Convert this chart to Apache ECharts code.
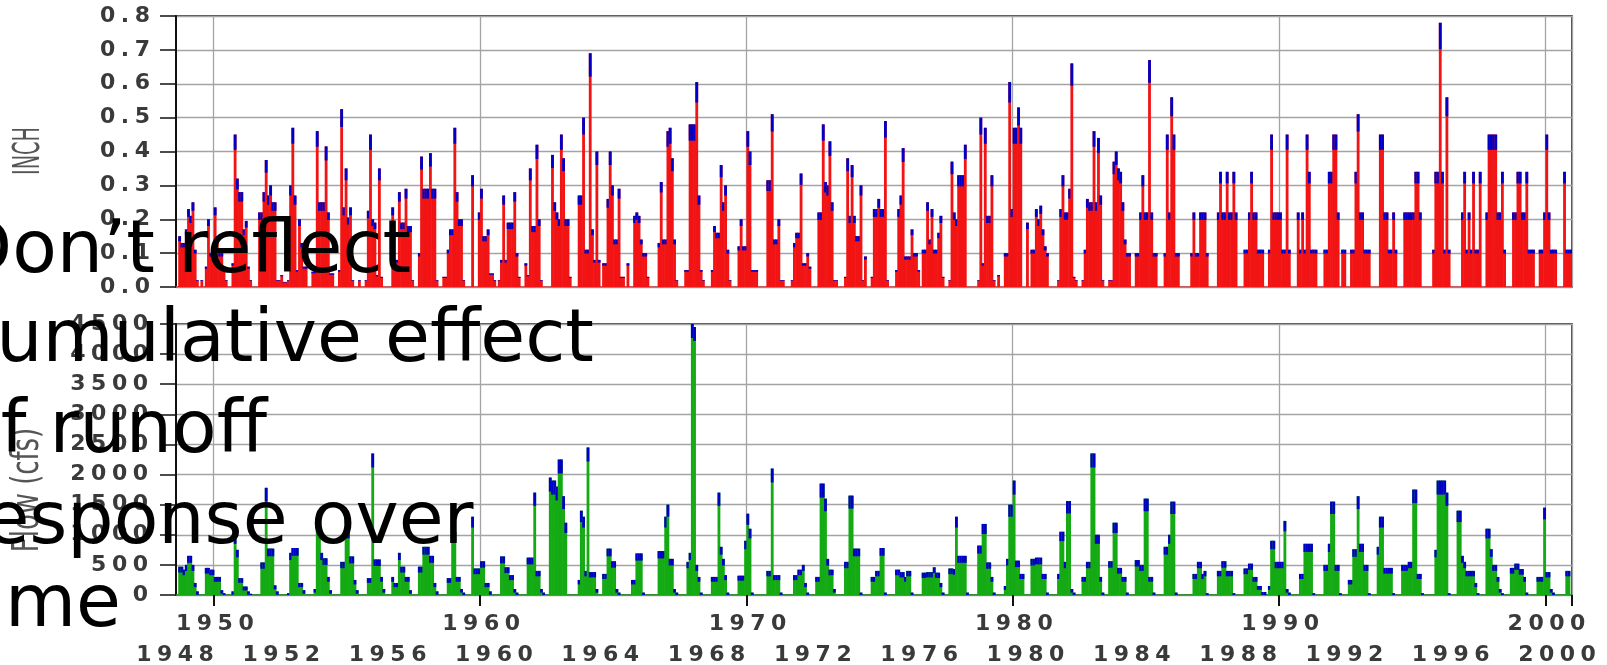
<!DOCTYPE html>
<html><head><meta charset="utf-8">
<script src="https://cdn.jsdelivr.net/npm/echarts@6/dist/echarts.min.js"></script>
<style>html,body{margin:0;padding:0;background:#fff;overflow:hidden}#c{width:1607px;height:665px}</style>
</head><body><div id="c"></div>
<script>
// Monthly series, Aug 1948 .. Dec 2000, one row of 12 values per Aug-Jul year
const precip1948_1961 = [
0,0.15,0.13,0.13,0.17,0.23,0.21,0.25,0.11,0.02,0,0.02,
0,0.06,0.2,0.1,0.1,0.235,0.15,0.1,0.1,0.06,0.02,0,
0,0.07,0.45,0.32,0.28,0.28,0.17,0.195,0.06,0.02,0,0,
0,0.22,0.22,0.28,0.375,0.27,0.3,0.25,0.25,0.02,0.02,0.035,
0.015,0.015,0.02,0.3,0.47,0.27,0.05,0.2,0.13,0.06,0.06,0,
0,0.045,0.045,0.46,0.25,0.25,0.25,0.415,0.22,0.04,0.04,0,
0,0.05,0.525,0.235,0.35,0.205,0.235,0.02,0,0,0.02,0,
0,0.02,0.225,0.45,0.2,0.19,0.035,0.35,0.03,0,0,0,
0,0.235,0.08,0.08,0.28,0.19,0.19,0.29,0.18,0.18,0.02,0,
0,0.1,0.385,0.29,0.29,0.29,0.395,0.29,0.29,0.02,0,0,
0.03,0.03,0.11,0.17,0.17,0.47,0.28,0.2,0.2,0.02,0,0,
0,0.33,0,0,0.22,0.29,0.15,0.15,0.17,0.04,0.04,0.02,
0,0.02,0.08,0.27,0.08,0.19,0.19,0.19,0.28,0.1,0.03,0
];
const precip1961_1974 = [
0,0.07,0.035,0.35,0.18,0.18,0.42,0.2,0.02,0,0,0,
0,0.39,0.25,0.22,0.2,0.45,0.38,0.2,0.2,0.03,0,0,
0,0.27,0.27,0.5,0.11,0.11,0.69,0.17,0.08,0.4,0.08,0,
0.07,0.07,0.26,0.4,0.3,0.14,0.14,0.29,0.03,0.03,0,0.07,
0,0,0.21,0.22,0.21,0.14,0.1,0.1,0.03,0,0,0,
0,0.13,0.31,0.14,0.14,0.46,0.47,0.38,0.14,0.02,0,0,
0,0.05,0.05,0.48,0.48,0.48,0.605,0.27,0.05,0.02,0,0,
0,0.05,0.18,0.16,0.16,0.36,0.25,0.3,0.11,0.02,0,0,
0,0.12,0.2,0.12,0.12,0.46,0.4,0.05,0.05,0.05,0,0,
0,0,0.315,0.315,0.51,0.14,0.14,0.2,0.02,0.02,0,0,
0,0.02,0.13,0.16,0.16,0.335,0.07,0.07,0.1,0.06,0,0,
0,0.22,0.22,0.48,0.31,0.3,0.43,0.25,0.02,0.02,0,0,
0,0.03,0.38,0.21,0.36,0.21,0.15,0.15,0.3,0.02,0.09,0
];
const precip1974_1987 = [
0,0.03,0.23,0.23,0.26,0.23,0.23,0.49,0.02,0,0,0,
0.05,0.23,0.27,0.41,0.09,0.09,0.09,0.17,0.1,0.1,0.05,0,
0.11,0.11,0.25,0.14,0.23,0.11,0.11,0.16,0.21,0.03,0,0,
0.02,0.37,0.22,0.2,0.33,0.33,0.33,0.42,0,0,0,0,
0,0.02,0.5,0.07,0.47,0.21,0.21,0.33,0.02,0,0.035,0,
0,0.1,0.1,0.605,0.23,0.47,0.47,0.53,0.47,0,0,0.19,
0,0.11,0.11,0.23,0.2,0.24,0.17,0.12,0.1,0,0,0,
0,0.02,0.23,0.33,0.22,0.22,0.29,0.66,0.03,0.02,0,0,
0.02,0.11,0.26,0.25,0.25,0.46,0.25,0.44,0.27,0.02,0,0,
0.02,0.02,0.37,0.4,0.35,0.34,0.25,0.14,0.1,0.1,0,0,
0.1,0.1,0.22,0.33,0.22,0.22,0.67,0.22,0.1,0.1,0,0,
0,0.1,0.45,0.22,0.56,0.45,0.1,0.1,0,0,0,0,
0,0.1,0.22,0.1,0.1,0.22,0.22,0.22,0.1,0,0,0
];
const precip1987_2000 = [
0,0.22,0.34,0.22,0.22,0.34,0.22,0.22,0.34,0.22,0,0,
0,0.11,0.11,0.22,0.34,0.22,0.22,0.11,0.11,0.11,0,0,
0.11,0.45,0.22,0.22,0.22,0.22,0.11,0.11,0.45,0.11,0,0,
0,0.22,0.11,0.22,0.11,0.45,0.34,0.11,0.11,0.11,0,0,
0,0.11,0.11,0.34,0.34,0.45,0.45,0.22,0,0.11,0.11,0,
0,0.11,0.11,0.34,0.51,0.22,0.22,0.11,0.11,0.11,0,0,
0,0,0.45,0.45,0.22,0.22,0.11,0.11,0.22,0.11,0,0,
0,0.22,0.22,0.22,0.22,0.22,0.34,0.34,0.22,0,0,0,
0,0,0.11,0.34,0.34,0.78,0.34,0.11,0.56,0.11,0,0,
0,0,0,0.22,0.34,0.11,0.22,0.11,0.34,0.11,0.11,0.34,
0,0,0.22,0.45,0.45,0.45,0.45,0.22,0.22,0.34,0.11,0,
0,0,0.22,0.22,0.34,0.34,0.22,0.22,0.34,0.11,0.11,0.11,
0,0,0.11,0.11,0.22,0.45,0.22,0.11,0.11,0.11,0,0,
0,0.34,0.11,0.11,0.11
];
const flow1948_1961 = [
0,470,470,420,500,650,650,500,200,60,0,0,
0,450,450,420,420,300,300,300,80,30,0,0,
0,60,1000,750,280,280,140,140,60,20,0,0,
0,0,540,540,1780,770,770,770,160,60,0,0,
0,0,30,700,780,780,780,200,200,80,0,0,
0,0,100,1280,1280,700,610,610,300,80,0,0,
0,0,550,550,1360,1100,640,640,250,80,0,0,
0,0,280,280,2350,590,590,590,300,100,0,0,
0,300,200,200,700,470,470,300,300,80,0,0,
0,470,470,800,800,800,650,650,200,60,0,0,
0,0,280,280,1050,1050,300,300,100,40,0,0,
0,1300,440,440,440,560,560,200,200,60,0,0,
0,0,640,640,460,460,330,330,100,40,0,0
];
const flow1961_1974 = [
0,0,620,620,620,1700,400,400,100,40,0,0,
1950,1900,1900,1800,2250,2250,1640,1200,0,0,0,0,
0,250,1400,1300,400,2450,380,380,380,100,0,0,
350,350,770,770,560,560,100,40,0,0,0,0,
0,250,250,690,690,690,40,0,0,0,0,0,
0,730,730,730,1300,1500,600,600,100,40,0,0,
0,0,550,700,4500,4450,500,300,40,0,0,0,
0,300,300,300,1700,800,600,330,40,0,0,0,
0,320,320,320,900,1350,1100,40,0,0,0,0,
0,0,400,400,2100,330,330,330,40,0,0,0,
0,0,330,330,420,420,500,200,40,0,0,0,
300,300,1850,1850,1600,600,420,420,100,0,0,0,
0,550,550,1650,1650,770,770,770,40,0,0,0
];
const flow1974_1987 = [
0,300,300,400,400,780,780,40,0,0,0,0,
420,420,380,380,300,400,400,40,0,0,0,0,
370,370,380,380,380,460,370,370,200,40,0,0,
440,440,430,1300,650,650,650,650,40,0,0,0,
0,820,820,1180,1180,540,540,300,40,0,0,0,
0,150,600,1500,1500,1900,570,570,350,350,0,0,
0,600,600,620,620,620,350,350,40,0,0,0,
0,350,1050,1050,550,1560,1560,100,40,0,0,0,
300,300,550,550,2350,2350,1000,1000,300,40,0,0,
560,560,1200,1200,450,450,300,300,40,0,0,0,
580,580,500,500,1600,1600,300,300,40,0,0,0,
0,800,800,1000,1550,1550,40,0,0,0,0,0,
0,0,350,350,550,550,350,400,30,0,0,0
];
const flow1987_2000 = [
0,400,400,560,560,400,400,400,30,0,0,0,
0,440,440,520,520,300,300,150,150,50,50,0,
150,900,900,550,550,550,550,1230,100,40,0,0,
0,0,350,350,850,850,850,850,30,0,0,0,
0,500,500,850,1550,1550,500,500,30,0,0,0,
250,250,760,760,1640,850,850,500,500,30,0,0,
0,800,1300,1300,450,450,450,450,30,0,0,0,
500,500,500,550,550,1750,1750,350,350,30,0,0,
0,0,0,750,1900,1900,1900,1900,1700,30,0,0,
0,1400,1400,650,550,400,400,400,400,200,30,0,
0,0,1100,1100,760,500,500,300,100,30,0,0,
0,450,450,520,520,430,430,300,40,0,0,0,
0,300,300,300,1450,380,380,100,40,0,0,0,
0,0,400,400,0
];
const precipTicks = [0,0.1,0.2,0.3,0.4,0.5,0.6,0.7,0.8];
const flowTicks = [0,500,1000,1500,2000,2500,3000,3500,4000,4500];
const decadeYears = [1950,1960,1970,1980,1990,2000];
const lowerYears = [1948,1952,1956,1960,1964,1968,1972,1976,1980,1984,1988,1992,1996,2000];
const noteLines = ['Don\u2019t reflect','cumulative effect','of runoff','response over','time'];

const precip = [].concat(precip1948_1961, precip1961_1974, precip1974_1987, precip1987_2000);
const flow = [].concat(flow1948_1961, flow1961_1974, flow1974_1987, flow1987_2000);
const months = precip.map((_, i) => {
  const t = 7 + i; const y = 1948 + Math.floor(t / 12); const m = t % 12 + 1;
  return y + '-' + (m < 10 ? '0' + m : m);
});

const RED = '#f21414', GREEN = '#14aa14', BLUE = '#0000c4', GRIDC = '#a4a4a4', INK = '#3a3a3a';
const FONT = 'DejaVu Sans';
const sp = s => String(s).split('').join('\u2005');
const isDecade = (idx, val) => val.slice(5) === '01' && decadeYears.indexOf(+val.slice(0, 4)) >= 0;

function render(fill, capOf) {
  return function (params, api) {
    const v = api.value(1);
    if (!(v > 0)) return null;
    const i = api.value(0);
    const p0 = api.coord([i, 0]), p1 = api.coord([i, v]);
    const w = api.size([1, 0])[0];
    const x = p0[0] - w / 2, h = p0[1] - p1[1];
    const cap = Math.min(h, capOf(h));
    return { type: 'group', children: [
      { type: 'rect', shape: { x: x, y: p1[1], width: w + 0.6, height: h }, style: { fill: fill } },
      { type: 'rect', shape: { x: x, y: p1[1], width: w + 0.6, height: cap }, style: { fill: BLUE } }
    ]};
  };
}

const labelStyle = { fontSize: 22, fontWeight: 'bold', color: INK, fontFamily: FONT };
const chart = echarts.init(document.getElementById('c'), null, { renderer: 'canvas' });
chart.setOption({
  animation: false,
  backgroundColor: '#fff',
  grid: [
    { left: 176, top: 16, width: 1396, height: 271, show: true, borderColor: '#111', borderWidth: 1.5, outerBoundsMode: 'none', containLabel: false },
    { left: 176, top: 324, width: 1396, height: 271, show: true, borderColor: '#111', borderWidth: 1.5, outerBoundsMode: 'none', containLabel: false },
    { left: 175, top: 324, width: 1382, height: 271, show: false, outerBoundsMode: 'none', containLabel: false }
  ],
  xAxis: [
    { type: 'category', gridIndex: 0, data: months, boundaryGap: true,
      axisLine: { show: true, lineStyle: { color: '#e85a5a', width: 1.5 } },
      axisTick: { show: false }, axisLabel: { show: false },
      splitLine: { show: true, interval: isDecade, lineStyle: { color: GRIDC, width: 1.3 } } },
    { type: 'category', gridIndex: 1, data: months, boundaryGap: true,
      axisLine: { show: true, lineStyle: { color: '#2a9a2a', width: 1.5 } },
      axisTick: { show: true, interval: isDecade, length: 11, lineStyle: { color: '#111', width: 2 } },
      axisLabel: Object.assign({ interval: isDecade, margin: 18, formatter: v => sp(v.slice(0, 4)) }, labelStyle),
      splitLine: { show: true, interval: isDecade, lineStyle: { color: GRIDC, width: 1.3 } } },
    { type: 'value', gridIndex: 2, min: lowerYears[0], max: lowerYears[lowerYears.length - 1], interval: 4,
      axisLine: { show: false }, axisTick: { show: false }, splitLine: { show: false },
      axisLabel: Object.assign({ margin: 49, formatter: v => sp(v), showMinLabel: true, showMaxLabel: true }, labelStyle) }
  ],
  yAxis: [
    { type: 'value', gridIndex: 0, min: precipTicks[0], max: precipTicks[precipTicks.length - 1], interval: 0.1,
      axisLine: { show: true, lineStyle: { color: '#111', width: 2 } },
      axisTick: { show: true, length: 16, lineStyle: { color: '#111', width: 1.5 } },
      axisLabel: Object.assign({ margin: 26, formatter: v => sp(v.toFixed(1)) }, labelStyle),
      splitLine: { show: true, lineStyle: { color: GRIDC, width: 1.3 } } },
    { type: 'value', gridIndex: 1, min: flowTicks[0], max: flowTicks[flowTicks.length - 1], interval: 500,
      axisLine: { show: true, lineStyle: { color: '#111', width: 2 } },
      axisTick: { show: true, length: 16, lineStyle: { color: '#111', width: 1.5 } },
      axisLabel: Object.assign({ margin: 28, formatter: v => sp(v) }, labelStyle),
      splitLine: { show: true, lineStyle: { color: GRIDC, width: 1.3 } } },
    { type: 'value', gridIndex: 2, show: false }
  ],
  series: [
    { type: 'custom', name: 'INCH', xAxisIndex: 0, yAxisIndex: 0, clip: true,
      encode: { x: 0, y: 1 }, data: precip.map((v, i) => [i, v]),
      renderItem: render(RED, h => h * 0.1) },
    { type: 'custom', name: 'Flow (cfs)', xAxisIndex: 1, yAxisIndex: 1, clip: true,
      encode: { x: 0, y: 1 }, data: flow.map((v, i) => [i, v]),
      renderItem: render(GREEN, h => Math.min(14, 3 + 0.1 * h)) }
  ],
  graphic: [
    { type: 'text', x: 29, y: 151, rotation: Math.PI / 2, scaleX: 0.52, scaleY: 1, z: 50,
      style: { text: 'INCH', font: '37px "' + FONT + '"', fill: '#555', textAlign: 'center', textVerticalAlign: 'middle', verticalAlign: 'middle' } },
    { type: 'text', x: 28, y: 490, rotation: Math.PI / 2, scaleX: 0.7, scaleY: 1, z: 50,
      style: { text: 'Flow (cfs)', font: '37px "' + FONT + '"', fill: '#555', textAlign: 'center', textVerticalAlign: 'middle', verticalAlign: 'middle' } }
  ].concat(noteLines.map((t, k) => ({
    type: 'text', x: -44, y: [253, 342, 433, 524, 607][k], z: 100,
    style: { text: t, font: '73px "' + FONT + '"', fill: '#000', textAlign: 'left', textVerticalAlign: 'middle', verticalAlign: 'middle' }
  })))
});
</script>
</body></html>
